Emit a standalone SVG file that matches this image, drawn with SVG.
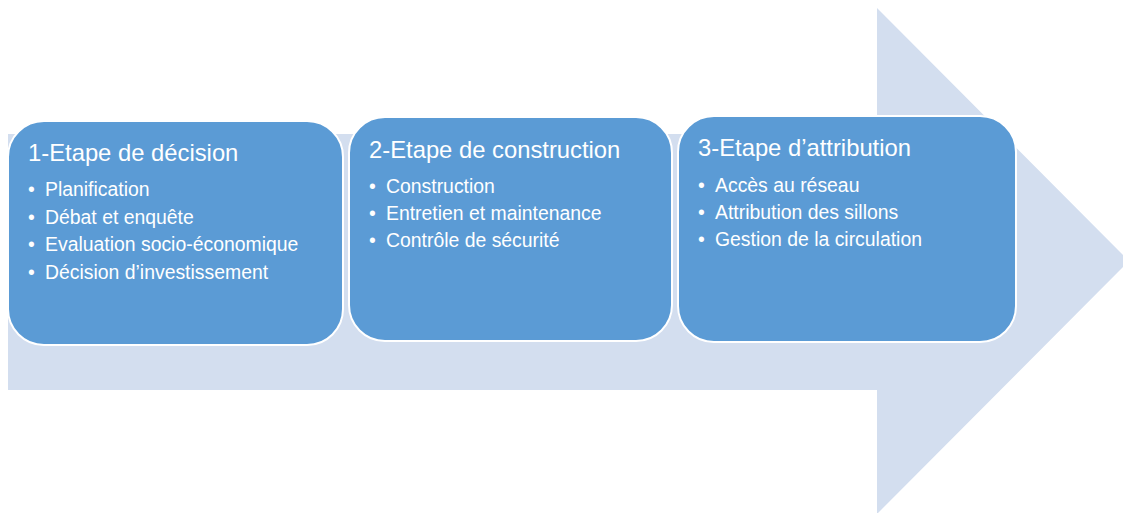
<svg xmlns="http://www.w3.org/2000/svg" width="1123" height="513" viewBox="0 0 1123 513">
<style>
.box{fill:#5B9BD5;stroke:#FFFFFF;stroke-width:2}
.title{font-family:"Liberation Sans",Arial,sans-serif;font-size:23.8px;fill:#FFFFFF}
.item{font-family:"Liberation Sans",Arial,sans-serif;font-size:19.4px;fill:#FFFFFF}
</style>
<rect width="1123" height="513" fill="#FFFFFF"/>
<g id="arrow">
<polygon points="8,134 877,134 877,8 1129,261 877,514 877,390 8,390" fill="#D3DEEF"/>
</g>
<g id="node1">
<rect class="box" x="8" y="121" width="335" height="224" rx="36" ry="36"/>
<text class="title" x="28" y="161">1-Etape de décision</text>
<text class="item" x="28" y="196">• <tspan x="45">Planification</tspan></text>
<text class="item" x="28" y="223.5">• <tspan x="45">Débat et enquête</tspan></text>
<text class="item" x="28" y="251">• <tspan x="45">Evaluation socio-économique</tspan></text>
<text class="item" x="28" y="278.5">• <tspan x="45">Décision d’investissement</tspan></text>
</g>
<g id="node2">
<rect class="box" x="349" y="117" width="323" height="224" rx="36" ry="36"/>
<text class="title" x="369" y="158">2-Etape de construction</text>
<text class="item" x="369" y="193">• <tspan x="386">Construction</tspan></text>
<text class="item" x="369" y="220">• <tspan x="386">Entretien et maintenance</tspan></text>
<text class="item" x="369" y="247">• <tspan x="386">Contrôle de sécurité</tspan></text>
</g>
<g id="node3">
<rect class="box" x="678" y="116" width="338" height="226" rx="36" ry="36"/>
<text class="title" x="698" y="156">3-Etape d’attribution</text>
<text class="item" x="698" y="192">• <tspan x="715">Accès au réseau</tspan></text>
<text class="item" x="698" y="219">• <tspan x="715">Attribution des sillons</tspan></text>
<text class="item" x="698" y="246">• <tspan x="715">Gestion de la circulation</tspan></text>
</g>
<g id="connectors"></g>
</svg>
